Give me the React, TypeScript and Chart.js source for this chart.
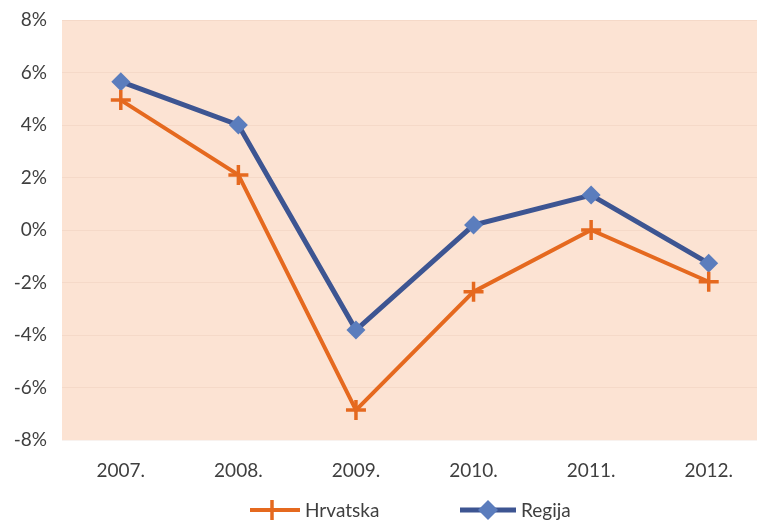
import React, { useEffect, useRef } from "react";
import { Chart, registerables } from "chart.js";

Chart.register(...registerables);

const categories = ["2007.", "2008.", "2009.", "2010.", "2011.", "2012."];
const hrvatska = [4.95, 2.1, -6.86, -2.35, 0.0, -1.97];
const regija = [5.65, 4.0, -3.81, 0.19, 1.33, -1.27];
const seriesNames = ["Hrvatska", "Regija"];
const yMin = -8;
const yMax = 8;
const yStep = 2;

const ORANGE = "#E5691F";
const BLUE_LINE = "#3D5592";
const BLUE_MARK = "#5B7DBD";
const BG = "#FCE3D3";
const TEXT = "#3f3f3f";
const FONT = "Lato, 'Open Sans', sans-serif";

const bgPlugin = {
  id: "plotBg",
  beforeDraw(chart: any) {
    const { ctx, chartArea } = chart;
    if (!chartArea) return;
    ctx.save();
    ctx.fillStyle = BG;
    ctx.fillRect(chartArea.left, chartArea.top, chartArea.right - chartArea.left, chartArea.bottom - chartArea.top);
    ctx.restore();
  },
};

const legendPlugin = {
  id: "customLegend",
  afterDraw(chart: any) {
    const ctx = chart.ctx;
    const y = 510;
    const items = [
      { x: 250, lw: 50, mx: 272, tx: 305, ds: chart.data.datasets[0], kind: "cross" },
      { x: 460, lw: 56, mx: 488, tx: 521, ds: chart.data.datasets[1], kind: "diamond" },
    ];
    ctx.save();
    for (const it of items) {
      ctx.strokeStyle = it.ds.borderColor;
      ctx.lineWidth = it.ds.borderWidth;
      ctx.beginPath();
      ctx.moveTo(it.x, y);
      ctx.lineTo(it.x + it.lw, y);
      ctx.stroke();
      const cx = it.mx;
      if (it.kind === "cross") {
        ctx.lineWidth = 3.5;
        ctx.beginPath();
        ctx.moveTo(cx - 10, y);
        ctx.lineTo(cx + 10, y);
        ctx.moveTo(cx, y - 10);
        ctx.lineTo(cx, y + 10);
        ctx.stroke();
      } else {
        ctx.fillStyle = BLUE_MARK;
        ctx.beginPath();
        ctx.moveTo(cx, y - 10);
        ctx.lineTo(cx + 10, y);
        ctx.lineTo(cx, y + 10);
        ctx.lineTo(cx - 10, y);
        ctx.closePath();
        ctx.fill();
      }
      ctx.fillStyle = TEXT;
      ctx.font = "19px " + FONT;
      ctx.textBaseline = "middle";
      ctx.textAlign = "left";
      ctx.fillText(it.ds.label, it.tx, y + 1);
    }
    ctx.restore();
  },
};

export default function App() {
  const ref = useRef<HTMLCanvasElement | null>(null);
  useEffect(() => {
    if (!ref.current) return;
    const chart = new Chart(ref.current, {
      type: "line",
      data: {
        labels: categories,
        datasets: [
          {
            label: seriesNames[0],
            data: hrvatska,
            borderColor: ORANGE,
            backgroundColor: ORANGE,
            borderWidth: 4,
            pointStyle: "cross",
            pointRadius: 10,
            pointBorderWidth: 3.5,
            pointBorderColor: ORANGE,
            tension: 0,
          },
          {
            label: seriesNames[1],
            data: regija,
            borderColor: BLUE_LINE,
            backgroundColor: BLUE_MARK,
            borderWidth: 5,
            pointStyle: "rectRot",
            pointRadius: 9.5,
            pointBorderWidth: 0,
            pointBackgroundColor: BLUE_MARK,
            pointBorderColor: BLUE_MARK,
            tension: 0,
          },
        ],
      },
      options: {
        responsive: false,
        animation: false,
        layout: { padding: { top: 20, left: 0, right: 0, bottom: 48 } },
        plugins: {
          legend: { display: false },
          tooltip: { enabled: false },
        },
        scales: {
          x: {
            offset: true,
            grid: { display: false, drawTicks: false },
            border: { display: false },
            ticks: { color: TEXT, font: { size: 19, family: FONT }, padding: 19 },
            afterFit: (s: any) => { s.height = 39; s.paddingLeft = 0; s.paddingRight = 0; },
          },
          y: {
            min: yMin,
            max: yMax,
            grid: { color: "rgba(200,150,120,0.12)", drawTicks: false },
            border: { display: false },
            ticks: {
              stepSize: yStep,
              color: TEXT,
              font: { size: 19, family: FONT },
              padding: 15,
              callback: (v: any) => v + "%",
            },
            afterFit: (s: any) => { s.width = 62; s.paddingTop = 0; s.paddingBottom = 0; },
          },
        },
      },
      plugins: [bgPlugin, legendPlugin],
    });
    return () => chart.destroy();
  }, []);
  return (
    <div style={{ position: "fixed", left: 0, top: 0, width: 757, height: 527, overflow: "hidden", background: "#fff" }}>
      <canvas ref={ref} width={781} height={527} style={{ display: "block" }} />
    </div>
  );
}
